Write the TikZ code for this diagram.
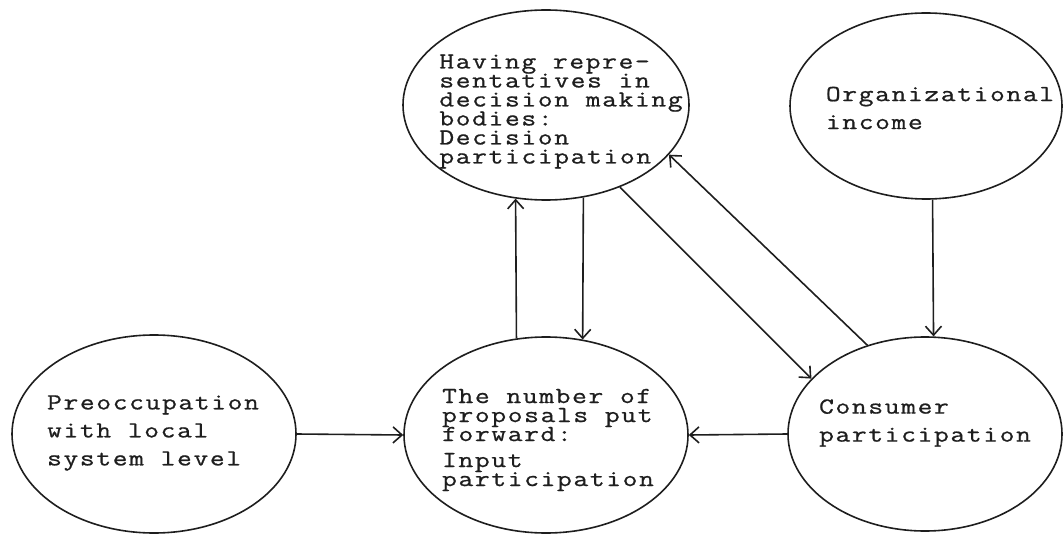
\documentclass[tikz,border=0pt]{standalone}
\usepackage{fontspec}
\usepackage{tikz}
\usetikzlibrary{arrows.meta,shapes.geometric}
\setmonofont{Latin Modern Mono}[FakeStretch=1.25,FakeBold=0.8,LetterSpace=7]
\definecolor{ink}{HTML}{1E1E1E}

\begin{document}
\begin{tikzpicture}[
  x=0.5pt,y=-0.5pt,
  oval/.style={ellipse,draw=ink,line width=0.8pt,inner sep=0pt},
  words/.style={inner sep=0pt,align=left,text=ink,
    font={\ttfamily\fontsize{11.5}{14}\selectfont\spaceskip=8.35pt\lineskiplimit=-20pt}},
  tight/.style={words,
    font={\ttfamily\fontsize{11.5}{9.5}\selectfont\spaceskip=8.35pt\lineskiplimit=-20pt}},
  arr/.style={-{Straight Barb[length=4.5pt,width=8pt]},line width=0.8pt,draw=ink}
]
\useasboundingbox (0,0) rectangle (1064,534);

\node[oval,minimum width=143pt,minimum height=95pt,
  label={[tight,xshift=7.5pt,yshift=-3.25pt]center:{Having repre-\\sentatives in\\decision making\\bodies:\\Decision\\participation}}]
  (decision) at (546,105) {};
\node[oval,minimum width=136pt,minimum height=93pt,
  label={[words,xshift=7pt,yshift=-1pt]center:{Organizational\\income}}]
  (income) at (926,106) {};
\node[oval,minimum width=142pt,minimum height=99pt,
  label={[words,xshift=-0.5pt,yshift=0.5pt]center:{Preoccupation\\with local\\system level}}]
  (preocc) at (154,434) {};
\node[oval,minimum width=142pt,minimum height=98pt,
  label={[tight,xshift=1pt,yshift=-2.5pt]center:{The number of\\proposals put\\forward:\\[3.5pt]Input\\participation}}]
  (input) at (546,435) {};
\node[oval,minimum width=137pt,minimum height=97pt,
  label={[words,yshift=5.5pt]center:{Consumer\\participation}}]
  (consumer) at (925,434) {};

\draw[arr] (preocc.east) -- (input.west);
\draw[arr] (consumer.west) -- (input.east);
\draw[arr] (input.107) -- (decision.252);
\draw[arr] (decision.292) -- (input.69);
\draw[arr] (decision.312) -- (consumer.154);
\draw[arr] (consumer.123) -- (decision.338);
\draw[arr] (income.274) -- (consumer.85);
\end{tikzpicture}
\end{document}
